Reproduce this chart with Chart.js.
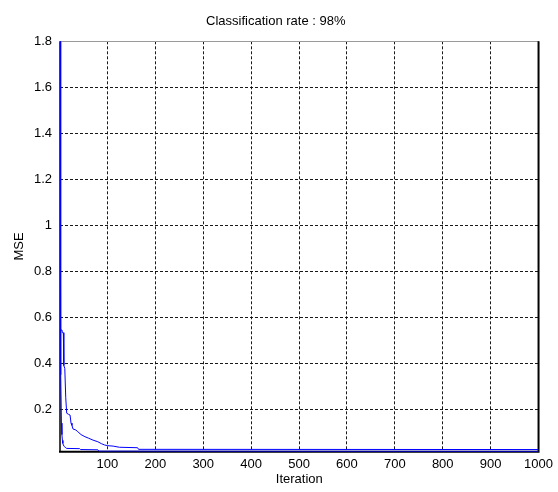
<!DOCTYPE html>
<html>
<head>
<meta charset="utf-8">
<script src="https://cdn.jsdelivr.net/npm/chart.js@4/dist/chart.umd.min.js"></script>
<style>
html,body{margin:0;padding:0;background:#fff;}
#wrap{width:558px;height:492px;}
</style>
</head>
<body>
<div id="wrap"><canvas id="c" width="558" height="492"></canvas></div>
<script>
// ---- data ----
const titleText = 'Classification rate : 98%';
const xLabel = 'Iteration';
const yLabel = 'MSE';
const xTicks = [100, 200, 300, 400, 500, 600, 700, 800, 900, 1000];
const yTicks = [0.2, 0.4, 0.6, 0.8, 1, 1.2, 1.4, 1.6, 1.8];

// run 1: starts at 1.8 and drops almost at once
const iterA = [1, 2, 3, 4, 5, 6, 7, 8, 10, 13, 15, 42, 44, 80, 82, 1000];
const mseA  = [1.8, 0.9, 0.35, 0.14, 0.09, 0.065, 0.052, 0.045, 0.038, 0.033, 0.030, 0.029, 0.025, 0.024, 0.018, 0.017];

// run 2: starts near 0.55 and decays in steps
const iterB = [1, 5, 6, 8, 9, 11, 13, 15, 19, 22, 24, 26, 28, 34, 38, 45, 53, 60, 70, 80, 88, 94, 100, 112, 125, 163, 165, 1000];
const mseB  = [0.545, 0.545, 0.533, 0.533, 0.39, 0.378, 0.25, 0.183, 0.178, 0.175, 0.14, 0.13, 0.115, 0.11, 0.103, 0.09, 0.081, 0.075, 0.066, 0.059, 0.05, 0.045, 0.042, 0.04, 0.035, 0.033, 0.026, 0.025];

const xMin = 1, xMax = 1000, yMin = 0.0157, yMax = 1.8;

// ---- chart ----
const FONT = '"Liberation Sans", Arial, Helvetica, sans-serif';
const toPts = (xs, ys) => xs.map((x, i) => ({x: x, y: ys[i]}));

const boxPlugin = {
  id: 'matlabBox',
  beforeDatasetsDraw(chart) {
    const {ctx, chartArea: a} = chart;
    ctx.save();
    // top edge: thin grey
    ctx.strokeStyle = '#9a9a9a';
    ctx.lineWidth = 1;
    ctx.beginPath();
    ctx.moveTo(a.left, Math.round(a.top) + 0.5);
    ctx.lineTo(a.right, Math.round(a.top) + 0.5);
    ctx.stroke();
    ctx.strokeStyle = '#000';
    // left
    ctx.lineWidth = 1.5;
    ctx.beginPath();
    ctx.moveTo(a.left, a.top);
    ctx.lineTo(a.left, a.bottom);
    ctx.stroke();
    // bottom + right
    ctx.lineWidth = 2;
    ctx.beginPath();
    ctx.moveTo(a.left - 1, a.bottom);
    ctx.lineTo(a.right, a.bottom);
    ctx.lineTo(a.right, a.top);
    ctx.stroke();
    ctx.restore();
  }
};

new Chart(document.getElementById('c'), {
  type: 'line',
  data: {
    datasets: [
      { data: toPts(iterB, mseB), borderColor: '#0000ff', borderWidth: 1, pointRadius: 0, fill: false, tension: 0 },
      { data: toPts(iterA, mseA), borderColor: '#0000ff', borderWidth: 1, pointRadius: 0, fill: false, tension: 0 }
    ]
  },
  options: {
    responsive: false,
    devicePixelRatio: 1,
    animation: false,
    events: [],
    layout: { padding: { left: 11, right: 17.5, top: 0, bottom: 0 } },
    plugins: {
      legend: { display: false },
      tooltip: { enabled: false },
      title: {
        display: true,
        text: titleText,
        color: '#000',
        font: { family: FONT, size: 13, weight: 'normal', lineHeight: 1.2 },
        padding: { top: 13.4, bottom: 12.3 }
      }
    },
    scales: {
      x: {
        type: 'linear',
        min: xMin, max: xMax,
        afterBuildTicks: s => { s.ticks = xTicks.map(v => ({ value: v })); },
        afterFit: s => { s.height = 40.3; },
        grid: { color: 'rgba(0,0,0,0.9)', lineWidth: 1, drawTicks: false },
        border: { display: false, dash: [3, 2] },
        ticks: {
          color: '#000', padding: 5, maxRotation: 0, autoSkip: false,
          font: { family: FONT, size: 13 },
          callback: v => String(v)
        },
        title: {
          display: true, text: xLabel, color: '#000',
          font: { family: FONT, size: 13, lineHeight: 1.2 },
          padding: { top: 0, bottom: 5.2 }
        }
      },
      y: {
        type: 'linear',
        min: yMin, max: yMax,
        afterBuildTicks: s => { s.ticks = yTicks.map(v => ({ value: v })); },
        afterFit: s => { s.width = 49; },
        grid: { color: 'rgba(0,0,0,0.9)', lineWidth: 1, drawTicks: false },
        border: { display: false, dash: [3, 2] },
        ticks: {
          color: '#000', padding: 8, autoSkip: false,
          font: { family: FONT, size: 13 },
          callback: v => String(v)
        },
        title: {
          display: true, text: yLabel, color: '#000',
          font: { family: FONT, size: 13, lineHeight: 1.2 },
          padding: { top: 0.5, bottom: 0 }
        }
      }
    }
  },
  plugins: [boxPlugin]
});
</script>
</body>
</html>
